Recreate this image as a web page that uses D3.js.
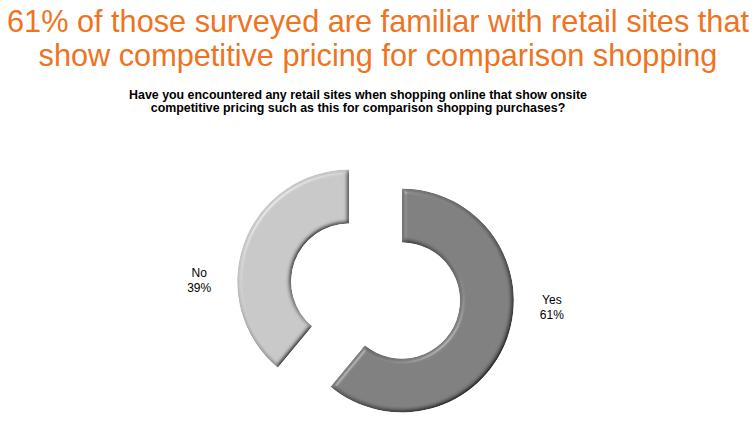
<!DOCTYPE html>
<html>
<head>
<meta charset="utf-8">
<script src="https://cdn.jsdelivr.net/npm/d3@7"></script>
<style>
  body { margin: 0; background: #fff; }
  svg { display: block; font-family: "Liberation Sans", Arial, sans-serif; }
  .title { fill: #ef7321; font-size: 30.7px; }
  .subtitle { fill: #000; font-size: 12.4px; font-weight: bold; }
  .label { fill: #000; font-size: 12px; }
</style>
</head>
<body>
<svg class="chart"></svg>
<script>
const titleLines = [
  '61% of those surveyed are familiar with retail sites that',
  'show competitive pricing for comparison shopping'
];
const subtitleLines = [
  'Have you encountered any retail sites when shopping online that show onsite',
  'competitive pricing such as this for comparison shopping purchases?'
];
const categories = ['Yes', 'No'];
const values = [61, 39];
const colors = ['#7b7b7b', '#c6c6c6'];

const startApp = () => {
  const viewBox = { width: 755, height: 433 };
  const center = { x: 375.5, y: 291 };
  const outerRadius = 112;
  const innerRadius = 58;
  const explode = 28;
  const labelRadius = 150;

  const svg = d3.select('.chart')
    .attr('width', viewBox.width)
    .attr('height', viewBox.height);

  // bevel look: diffuse light for shading, specular for highlight
  const filter = svg.append('defs').append('filter')
    .attr('id', 'bevel')
    .attr('x', '-10%').attr('y', '-10%')
    .attr('width', '120%').attr('height', '120%');
  filter.append('feGaussianBlur')
    .attr('in', 'SourceAlpha').attr('stdDeviation', 2).attr('result', 'blur');
  filter.append('feDiffuseLighting')
    .attr('in', 'blur').attr('surfaceScale', 4)
    .attr('diffuseConstant', 1.155).attr('lighting-color', '#fff')
    .attr('result', 'diffuse')
    .append('feDistantLight').attr('azimuth', 225).attr('elevation', 60);
  filter.append('feSpecularLighting')
    .attr('in', 'blur').attr('surfaceScale', 4)
    .attr('specularConstant', 0.7).attr('specularExponent', 25)
    .attr('lighting-color', '#fff').attr('result', 'spec')
    .append('feDistantLight').attr('azimuth', 225).attr('elevation', 40);
  filter.append('feComposite')
    .attr('in', 'SourceGraphic').attr('in2', 'diffuse')
    .attr('operator', 'arithmetic')
    .attr('k1', 1).attr('k2', 0).attr('k3', 0).attr('k4', 0)
    .attr('result', 'shaded');
  filter.append('feComposite')
    .attr('in', 'spec').attr('in2', 'SourceAlpha')
    .attr('operator', 'in').attr('result', 'specIn');
  filter.append('feComposite')
    .attr('in', 'shaded').attr('in2', 'specIn')
    .attr('operator', 'arithmetic')
    .attr('k1', 0).attr('k2', 1).attr('k3', 0.35).attr('k4', 0)
    .attr('result', 'lit');
  filter.append('feComposite')
    .attr('in', 'lit').attr('in2', 'SourceAlpha').attr('operator', 'in');

  svg.append('text')
    .classed('title', true)
    .attr('text-anchor', 'middle')
    .selectAll('tspan')
    .data(titleLines)
    .enter()
    .append('tspan')
    .attr('x', 378)
    .attr('y', (d, i) => 32 + i * 34)
    .text(d => d);

  svg.append('text')
    .classed('subtitle', true)
    .attr('text-anchor', 'middle')
    .selectAll('tspan')
    .data(subtitleLines)
    .enter()
    .append('tspan')
    .attr('x', 358)
    .attr('y', (d, i) => 99 + i * 13)
    .text(d => d);

  const data = categories.map((name, i) => ({ name, value: values[i], color: colors[i] }));
  const pie = d3.pie().sort(null).value(d => d.value);
  const arc = d3.arc().innerRadius(innerRadius).outerRadius(outerRadius);

  const offset = (d) => {
    const mid = (d.startAngle + d.endAngle) / 2;
    return [Math.sin(mid) * explode, -Math.cos(mid) * explode];
  };

  const slices = svg.append('g')
    .attr('transform', `translate(${center.x}, ${center.y})`)
    .selectAll('g')
    .data(pie(data))
    .enter()
    .append('g')
    .attr('transform', d => `translate(${offset(d)})`);

  slices.append('path')
    .attr('d', arc)
    .attr('fill', d => d.data.color)
    .attr('filter', 'url(#bevel)');

  const labels = slices.append('text')
    .classed('label', true)
    .attr('text-anchor', 'middle')
    .attr('transform', (d) => {
      const mid = (d.startAngle + d.endAngle) / 2;
      const side = Math.sin(mid) > 0 ? 1 : -1;
      return `translate(${side * labelRadius}, 0)`;
    });
  labels.append('tspan')
    .attr('x', 0).attr('y', d => (d.data.name === 'Yes' ? 4 : -5))
    .text(d => d.data.name);
  labels.append('tspan')
    .attr('x', 0).attr('dy', 15)
    .text(d => `${d.data.value}%`);
};

window.onload = startApp;
</script>
</body>
</html>
